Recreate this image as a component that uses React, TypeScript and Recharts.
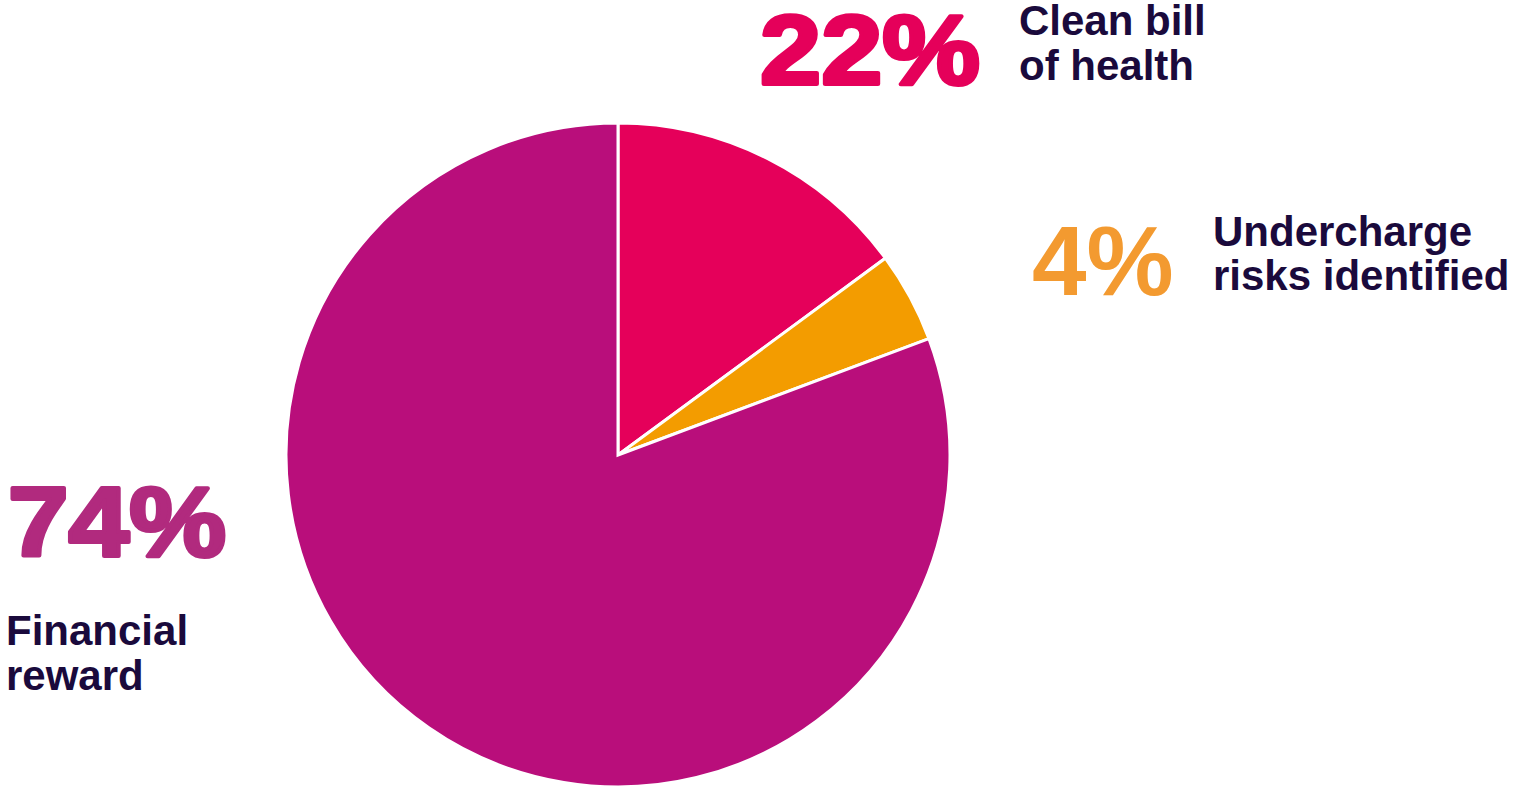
import React from "react";
import { PieChart, Pie, Cell } from "recharts";

const categories = ["Clean bill of health", "Undercharge risks identified", "Financial reward"];
const sliceValues = [14.9, 4.4, 80.7];
const percentLabels = ["22%", "4%", "74%"];
const labelLines = [["Clean bill", "of health"], ["Undercharge", "risks identified"], ["Financial", "reward"]];

const sliceColors = ["#E5005A", "#F39C00", "#B90E7B"];
const percentColors = ["#E5005A", "#F39A30", "#B12A7E"];
const textColor = "#1A0A3C";

const data = categories.map((name, i) => ({ name, value: sliceValues[i] }));

const W = 1516;
const H = 789;
const labelFont = "'Liberation Sans', Arial, sans-serif";

export default function App() {
  return (
    <div style={{ position: "absolute", left: 0, top: 0, width: W, height: H, background: "#fff", overflow: "hidden" }}>
      <PieChart width={W} height={H} margin={{ top: 0, right: 0, bottom: 0, left: 0 }}>
        <Pie
          data={data}
          dataKey="value"
          nameKey="name"
          cx={618}
          cy={455}
          outerRadius={332}
          innerRadius={0}
          startAngle={90}
          endAngle={-270}
          stroke="#ffffff"
          strokeWidth={3}
          isAnimationActive={false}
          label={false}
          labelLine={false}
        >
          {data.map((d, i) => (
            <Cell key={d.name} fill={sliceColors[i]} />
          ))}
        </Pie>
      </PieChart>
      <svg width={W} height={H} style={{ position: "absolute", left: 0, top: 0, pointerEvents: "none" }}>
        {/* 22% */}
        <text x={760} y={84} fontFamily={labelFont} fontWeight={700} fontSize={99} fill={percentColors[0]}
          stroke={percentColors[0]} strokeWidth={4} strokeLinejoin="round" textLength={220} lengthAdjust="spacingAndGlyphs">
          {percentLabels[0]}
        </text>
        <text fontFamily={labelFont} fontWeight={700} fontSize={42} fill={textColor}>
          <tspan x={1019} y={35}>{labelLines[0][0]}</tspan>
          <tspan x={1019} y={80}>{labelLines[0][1]}</tspan>
        </text>
        {/* 4% */}
        <text x={1032} y={295} fontFamily={labelFont} fontWeight={700} fontSize={98} fill={percentColors[1]}>
          {percentLabels[1]}
        </text>
        <text fontFamily={labelFont} fontWeight={700} fontSize={42} fill={textColor}>
          <tspan x={1213} y={246}>{labelLines[1][0]}</tspan>
          <tspan x={1213} y={290}>{labelLines[1][1]}</tspan>
        </text>
        {/* 74% */}
        <text x={8} y={556} fontFamily={labelFont} fontWeight={700} fontSize={99} fill={percentColors[2]}
          stroke={percentColors[2]} strokeWidth={4} strokeLinejoin="round" textLength={218} lengthAdjust="spacingAndGlyphs">
          {percentLabels[2]}
        </text>
        <text fontFamily={labelFont} fontWeight={700} fontSize={42} fill={textColor}>
          <tspan x={6} y={645}>{labelLines[2][0]}</tspan>
          <tspan x={6} y={690}>{labelLines[2][1]}</tspan>
        </text>
      </svg>
    </div>
  );
}
